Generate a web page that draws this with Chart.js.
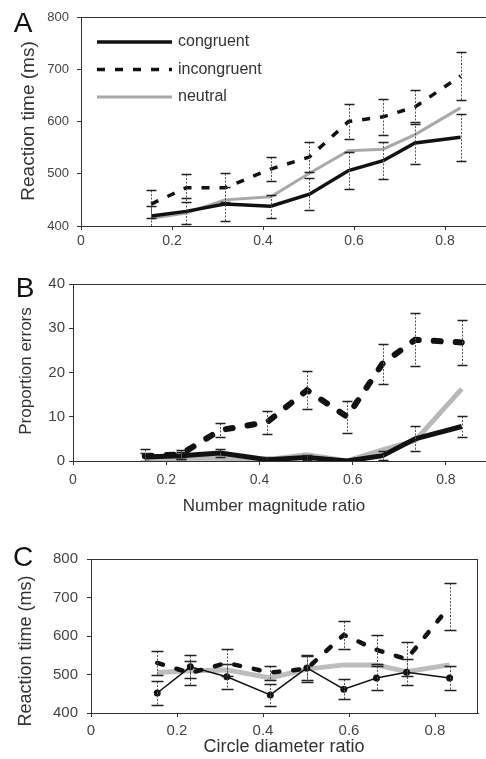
<!DOCTYPE html>
<html>
<head>
<meta charset="utf-8">
<script src="https://cdn.jsdelivr.net/npm/chart.js@4.4.0/dist/chart.umd.min.js"></script>
<style>
  body { margin: 0; width: 486px; height: 759px; background: #fff; position: relative; overflow: hidden;
         font-family: "Liberation Sans", Arial, sans-serif; }
  canvas { position: absolute; left: 0; }
  .letter { position: absolute; font-size: 28px; line-height: 1; color: #111; transform: translate(-50%, -50%); }
  .ytitle { position: absolute; line-height: 1; color: #333; white-space: nowrap; transform: translate(-50%, -50%) rotate(-90deg); }
  .xtitle { position: absolute; line-height: 1; color: #333; white-space: nowrap; transform: translate(-50%, -50%); }
</style>
</head>
<body>
<canvas id="chartA" width="486" height="250" style="top:0"></canvas>
<canvas id="chartB" width="486" height="260" style="top:250px"></canvas>
<canvas id="chartC" width="486" height="249" style="top:510px"></canvas>

<div class="letter" style="left:23px;top:23px">A</div>
<div class="letter" style="left:25px;top:288px">B</div>
<div class="letter" style="left:23px;top:557px">C</div>

<div class="ytitle" style="left:27px;top:121px;font-size:19px">Reaction time (ms)</div>
<div class="ytitle" style="left:25px;top:371px;font-size:17px">Proportion errors</div>
<div class="ytitle" style="left:25px;top:651px;font-size:18px">Reaction time (ms)</div>
<div class="xtitle" style="left:274px;top:505px;font-size:17px">Number magnitude ratio</div>
<div class="xtitle" style="left:284px;top:746px;font-size:18px">Circle diameter ratio</div>

<script>
// -----------------------------
// Data
// -----------------------------
const X_RATIO = [0.154, 0.231, 0.316, 0.417, 0.502, 0.588, 0.664, 0.734, 0.834];
const X_TICKS = [0, 0.2, 0.4, 0.6, 0.8];
const SERIES = ["congruent", "incongruent", "neutral"];

// A: reaction time vs number magnitude ratio
const A_Y_TICKS = [400, 500, 600, 700, 800];
const A_CONG = [419, 428, 442, 438, 461, 506, 525, 559, 570];
const A_CONG_ERR = [20, 25, 32, 22, 30, 35, 35, 40, 45];
const A_INCONG = [442, 473, 473, 509, 532, 600, 609, 628, 687];
const A_INCONG_ERR = [27, 27, 28, 23, 28, 33, 35, 33, 46];
const A_NEUT = [415, 425, 450, 456, 501, 544, 547, 575, 626];

// B: proportion errors vs number magnitude ratio
const B_Y_TICKS = [0, 10, 20, 30, 40];
const B_CONG = [0.9, 1.2, 1.8, 0.3, 0.8, 0, 1.2, 5.0, 7.8];
const B_CONG_ERR = [0.8, 0.8, 1, 0.5, 0.5, 0, 1, 2.8, 2.3];
const B_INCONG = [1.1, 1.5, 7.0, 8.8, 16.0, 10.0, 22.0, 27.4, 26.8];
const B_INCONG_ERR = [1.5, 1.0, 1.6, 2.6, 4.3, 3.6, 4.5, 6.0, 5.0];
const B_NEUT = [0.4, 0.6, 0.6, 0.3, 1.4, 0, 2.5, 4.6, 16.3];

// C: reaction time vs circle diameter ratio
const C_Y_TICKS = [400, 500, 600, 700, 800];
const C_CONG = [452, 520, 494, 447, 517, 462, 491, 506, 491];
const C_CONG_ERR = [30, 30, 32, 28, 30, 26, 30, 33, 30];
const C_INCONG = [530, 504, 530, 505, 515, 603, 564, 540, 677];
const C_INCONG_ERR = [31, 30, 35, 18, 35, 37, 38, 44, 61];
const C_NEUT = [505, 510, 512, 491, 514, 525, 525, 507, 525];

const FONT = "'Liberation Sans', Arial, sans-serif";

function toPoints(ys) {
  return X_RATIO.map((x, i) => ({ x, y: ys[i] }));
}

// -----------------------------
// Plugins: error bars, frame, inset legend
// -----------------------------
const errorBars = {
  id: "errorBars",
  afterDatasetsDraw(chart, args, opts) {
    const { ctx, chartArea, scales: { x, y } } = chart;
    const cap = opts.cap || 10;
    ctx.save();
    ctx.beginPath();
    ctx.rect(chartArea.left, chartArea.top - 2, chartArea.right - chartArea.left, chartArea.bottom - chartArea.top + 2);
    ctx.clip();
    chart.data.datasets.forEach(ds => {
      if (!ds.errors) return;
      ds.data.forEach((pt, i) => {
        const e = ds.errors[i];
        if (!e) return;
        const px = Math.round(x.getPixelForValue(pt.x)) + 0.5;
        const top = Math.round(y.getPixelForValue(pt.y + e)) + 0.5;
        const bot = Math.round(y.getPixelForValue(pt.y - e)) + 0.5;
        ctx.strokeStyle = "#555";
        ctx.lineWidth = 1;
        ctx.setLineDash([2, 1.5]);
        ctx.beginPath();
        ctx.moveTo(px, top);
        ctx.lineTo(px, bot);
        ctx.stroke();
        ctx.setLineDash([]);
        ctx.strokeStyle = "#222";
        ctx.lineWidth = 1.5;
        ctx.beginPath();
        ctx.moveTo(px - cap / 2, top);
        ctx.lineTo(px + cap / 2, top);
        ctx.moveTo(px - cap / 2, bot);
        ctx.lineTo(px + cap / 2, bot);
        ctx.stroke();
      });
    });
    ctx.restore();
  }
};

const frame = {
  id: "frame",
  afterDraw(chart, args, opts) {
    const { ctx, chartArea: a } = chart;
    ctx.save();
    ctx.strokeStyle = "#333";
    ctx.lineWidth = 1;
    ctx.beginPath();
    ctx.moveTo(a.left, a.top + 0.5);
    ctx.lineTo(a.right, a.top + 0.5);
    if (opts.right) {
      ctx.moveTo(a.right - 0.5, a.top);
      ctx.lineTo(a.right - 0.5, a.bottom);
    }
    ctx.stroke();
    ctx.restore();
  }
};

const insetLegend = {
  id: "insetLegend",
  afterDraw(chart, args, opts) {
    if (!opts.show) return;
    const { ctx } = chart;
    ctx.save();
    chart.data.datasets.forEach((ds, i) => {
      const yy = opts.y + i * opts.gap;
      ctx.strokeStyle = ds.borderColor;
      ctx.lineWidth = ds.borderWidth;
      ctx.setLineDash(ds.borderDash || []);
      ctx.beginPath();
      ctx.moveTo(opts.x, yy);
      ctx.lineTo(opts.x + opts.len, yy);
      ctx.stroke();
      ctx.setLineDash([]);
      ctx.fillStyle = "#333";
      ctx.font = "16px " + FONT;
      ctx.textBaseline = "middle";
      ctx.fillText(ds.label, opts.x + opts.len + 6, yy);
    });
    ctx.restore();
  }
};

// -----------------------------
// Build one panel
// -----------------------------
function makePanel(id, p) {
  const tickFmt = v => (v === 0 ? "0" : v.toFixed(1));
  return new Chart(document.getElementById(id), {
    type: "line",
    data: {
      datasets: [
        Object.assign({ label: SERIES[0], data: toPoints(p.cong), errors: p.congErr, tension: 0, pointRadius: 0 }, p.congStyle),
        Object.assign({ label: SERIES[1], data: toPoints(p.incong), errors: p.incongErr, tension: 0, pointRadius: 0 }, p.incongStyle),
        Object.assign({ label: SERIES[2], data: toPoints(p.neut), tension: 0, pointRadius: 0 }, p.neutStyle)
      ]
    },
    options: {
      responsive: false,
      animation: false,
      devicePixelRatio: 1,
      layout: { padding: { top: p.padTop, right: p.padRight, left: 0, bottom: 0 } },
      plugins: {
        legend: { display: false },
        tooltip: { enabled: false },
        errorBars: { cap: p.cap },
        frame: { right: p.frameRight },
        insetLegend: p.legend || { show: false }
      },
      scales: {
        x: {
          type: "linear",
          min: 0,
          max: p.xMax,
          afterBuildTicks: s => { s.ticks = X_TICKS.map(v => ({ value: v })); },
          afterFit: s => { s.height = p.xHeight; },
          border: { display: true, color: "#333", width: 1 },
          grid: { display: true, drawOnChartArea: false, drawTicks: true, tickLength: 4, color: "#333" },
          ticks: { color: "#444", padding: p.xPad, font: { family: FONT, size: p.xFont }, callback: tickFmt, maxRotation: 0 }
        },
        y: {
          min: p.yTicks[0],
          max: p.yTicks[p.yTicks.length - 1],
          afterBuildTicks: s => { s.ticks = p.yTicks.map(v => ({ value: v })); },
          afterFit: s => { s.width = p.yWidth; },
          border: { display: true, color: "#333", width: 1 },
          grid: { display: true, drawOnChartArea: false, drawTicks: true, tickLength: 4, color: "#333" },
          ticks: { color: "#444", padding: p.yPad, font: { family: FONT, size: p.yFont } }
        }
      }
    },
    plugins: [errorBars, frame, insetLegend]
  });
}

makePanel("chartA", {
  cong: A_CONG, congErr: A_CONG_ERR, incong: A_INCONG, incongErr: A_INCONG_ERR, neut: A_NEUT,
  congStyle: { borderColor: "#111", borderWidth: 3.5 },
  incongStyle: { borderColor: "#111", borderWidth: 3.5, borderDash: [8, 10] },
  neutStyle: { borderColor: "#a8a8a8", borderWidth: 3 },
  yTicks: A_Y_TICKS, xMax: 0.89, padTop: 17, padRight: 0,
  yWidth: 81, xHeight: 24, yPad: 8, xPad: 3, yFont: 13, xFont: 14, cap: 10,
  frameRight: false,
  legend: { show: true, x: 97, y: 42, gap: 27.5, len: 75 }
});

makePanel("chartB", {
  cong: B_CONG, congErr: B_CONG_ERR, incong: B_INCONG, incongErr: B_INCONG_ERR, neut: B_NEUT,
  congStyle: { borderColor: "#111", borderWidth: 5 },
  incongStyle: { borderColor: "#111", borderWidth: 6, borderDash: [7, 15], borderCapStyle: "round" },
  neutStyle: { borderColor: "#b8b8b8", borderWidth: 5 },
  yTicks: B_Y_TICKS, xMax: 0.886, padTop: 34, padRight: 0,
  yWidth: 73, xHeight: 49, yPad: 4, xPad: 7, yFont: 15, xFont: 14, cap: 10,
  frameRight: false
});

makePanel("chartC", {
  cong: C_CONG, congErr: C_CONG_ERR, incong: C_INCONG, incongErr: C_INCONG_ERR, neut: C_NEUT,
  congStyle: { borderColor: "#111", borderWidth: 1.5, pointRadius: 3.5, pointBackgroundColor: "#111", pointBorderWidth: 0 },
  incongStyle: { borderColor: "#111", borderWidth: 4.5, borderDash: [6, 14], borderCapStyle: "round" },
  neutStyle: { borderColor: "#bdbdbd", borderWidth: 5 },
  yTicks: C_Y_TICKS, xMax: 0.9, padTop: 49, padRight: 8,
  yWidth: 91, xHeight: 46, yPad: 9, xPad: 5, yFont: 15, xFont: 15, cap: 12,
  frameRight: true
});
</script>
</body>
</html>
